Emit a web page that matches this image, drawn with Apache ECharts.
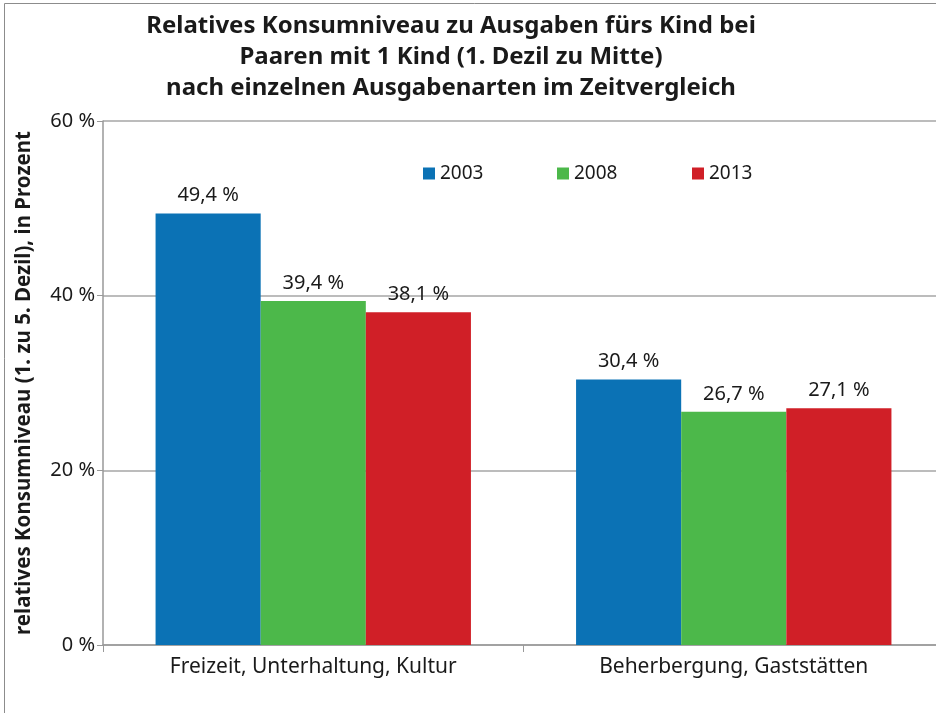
<!DOCTYPE html>
<html>
<head>
<meta charset="utf-8">
<script src="https://cdn.jsdelivr.net/npm/echarts@6/dist/echarts.min.js"></script>
<style>
  html, body { margin: 0; padding: 0; background: #fff; overflow: hidden; }
  /* the original plot runs a little past the right edge of the picture */
  #chart { width: 944px; height: 713px; }
</style>
</head>
<body>
<div id="chart"></div>
<script>
// data
const categories = ['Freizeit, Unterhaltung, Kultur', 'Beherbergung, Gaststätten']
const years = ['2003', '2008', '2013']
const values2003 = [49.4, 30.4]
const values2008 = [39.4, 26.7]
const values2013 = [38.1, 27.1]
const yTicks = [0, 20, 40, 60]

const colors = ['#0b72b5', '#4cb84a', '#d01f27']
const font = '"Noto Sans", "DejaVu Sans", sans-serif'
const textColor = '#1a1a1a'

const chart = echarts.init(document.getElementById('chart'))

const fmt = v => v.toFixed(1).replace('.', ',') + ' %'

const makeSeries = (name, data, i) => ({
  name: name,
  type: 'bar',
  data: data,
  barGap: 0,
  barCategoryGap: '25%',
  itemStyle: { color: colors[i] },
  label: {
    show: true,
    position: 'top',
    distance: 8,
    formatter: p => fmt(p.value),
    fontFamily: font,
    fontSize: 20,
    color: textColor
  }
})

// one legend per item so each can sit where the original has it
const legendLefts = [423, 557, 692]
const legends = years.map((y, i) => ({
  data: [y],
  left: legendLefts[i] - 5,
  top: 159,
  itemWidth: 12,
  itemHeight: 12,
  icon: 'rect',
  itemGap: 0,
  textStyle: { fontFamily: font, fontSize: 19, color: textColor }
}))

const option = {
  animation: false,
  backgroundColor: '#fff',
  graphic: [
    {
      type: 'rect',
      shape: { x: 4.5, y: 3.5, width: 960, height: 740 },
      style: { fill: 'none', stroke: '#8c8c8c', lineWidth: 1 },
      silent: true
    },
    {
      type: 'text',
      x: 451,
      y: 11,
      style: {
        text: 'Relatives Konsumniveau zu Ausgaben fürs Kind bei\nPaaren mit 1 Kind (1. Dezil zu Mitte)\nnach einzelnen Ausgabenarten im Zeitvergleich',
        align: 'center',
        verticalAlign: 'top',
        font: 'bold 24px ' + font,
        lineHeight: 31,
        fill: textColor
      }
    }
  ],
  legend: legends,
  grid: { left: 103, right: 0, top: 121, bottom: 68 },
  xAxis: {
    type: 'category',
    data: categories,
    axisLine: { lineStyle: { color: '#999', width: 1.5 } },
    axisTick: { show: true, length: 7, lineStyle: { color: '#999' } },
    axisLabel: { fontFamily: font, fontSize: 21, color: textColor, margin: 12 }
  },
  yAxis: {
    type: 'value',
    min: yTicks[0],
    max: yTicks[yTicks.length - 1],
    interval: 20,
    name: 'relatives Konsumniveau (1. zu 5. Dezil), in Prozent',
    nameLocation: 'middle',
    nameGap: 68,
    nameRotate: 90,
    nameTextStyle: { fontFamily: font, fontSize: 20.5, fontWeight: 'bold', color: textColor },
    axisLine: { show: true, lineStyle: { color: '#999', width: 1.5 } },
    axisTick: { show: true, length: 6, lineStyle: { color: '#999' } },
    axisLabel: { formatter: '{value} %', fontFamily: font, fontSize: 20, color: textColor, margin: 8 },
    splitLine: { lineStyle: { color: '#a6a6a6', width: 1.5 } }
  },
  series: [
    makeSeries(years[0], values2003, 0),
    makeSeries(years[1], values2008, 1),
    makeSeries(years[2], values2013, 2)
  ]
}

chart.setOption(option)
</script>
</body>
</html>
